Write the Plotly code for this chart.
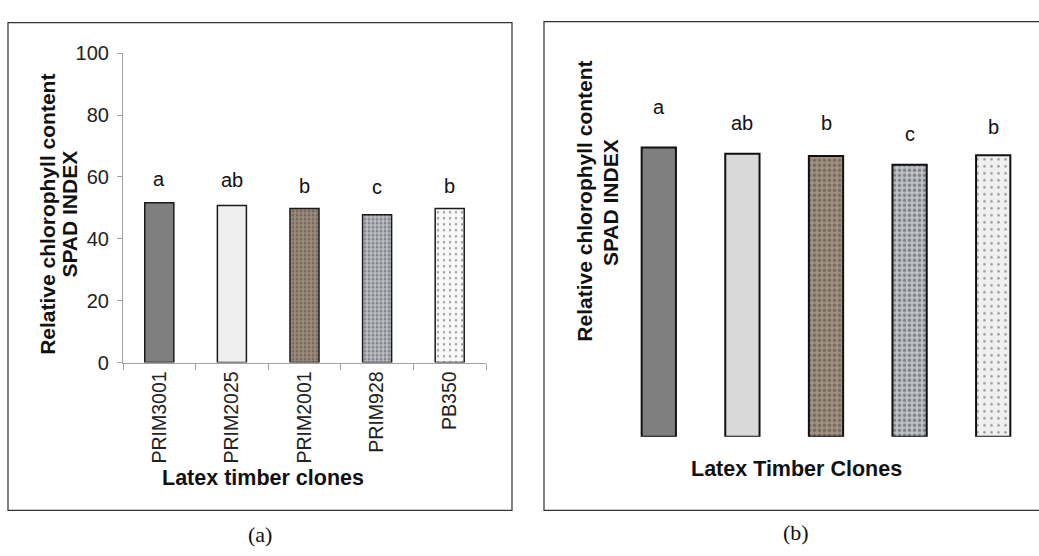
import plotly.graph_objects as go

W, H = 1039, 556

clones = ["PRIM3001", "PRIM2025", "PRIM2001", "PRIM928", "PB350"]
spad_a = [51.7, 50.8, 49.8, 47.8, 49.8]
spad_b = [51.5, 50.4, 50.0, 48.4, 50.1]
letters = ["a", "ab", "b", "c", "b"]
y_ticks = [0, 20, 40, 60, 80, 100]

# styles
shift_a = [24, 25, 23, 28, 23]
shift_b = [40, 31, 33, 31, 28]
fill_a = ["#7f7f7f", "#efefef", "#a08d7b", "#bcc0c7", "#f8f8f8"]
fill_b = ["#7f7f7f", "#d9d9d9", "#a39180", "#bcc0c7", "#f0f0f0"]
dots_a = ["rgba(0,0,0,0)", "rgba(0,0,0,0)", "#4a3c30", "#575b63", "#e2e2e2"]
dots_b = ["rgba(0,0,0,0)", "rgba(0,0,0,0)", "#4a3c30", "#6a6e76", "#dcdcdc"]
shapes_p = ["", "", ".", ".", "."]
p_size = [4, 4, 4, 4, 6]
p_solid = [0.3, 0.3, 0.4, 0.38, 0.12]

FONT = "Liberation Sans, Arial, sans-serif"
SERIF = "Liberation Serif, Times New Roman, serif"


def px(x):
    return x / W


def py(y):
    return 1 - y / H


fig = go.Figure()

fig.add_trace(go.Bar(
    x=clones, y=spad_a, xaxis="x", yaxis="y", width=0.4,
    marker=dict(color=fill_a, line=dict(color="#1a1a1a", width=1.5),
                pattern=dict(shape=shapes_p, fgcolor=dots_a, size=p_size,
                             solidity=p_solid, fillmode="overlay")),
    hoverinfo="skip", showlegend=False,
))
fig.add_trace(go.Bar(
    x=clones, y=spad_b, xaxis="x2", yaxis="y2", width=0.41,
    marker=dict(color=fill_b, line=dict(color="#111111", width=2),
                pattern=dict(shape=shapes_p, fgcolor=dots_b,
                             size=[s + 1 for s in p_size], solidity=p_solid,
                             fillmode="overlay")),
    hoverinfo="skip", showlegend=False,
))

annotations = []
for c, v, l, s in zip(clones, spad_a, letters, shift_a):
    annotations.append(dict(x=c, y=v, xref="x", yref="y", text=l, showarrow=False,
                            yanchor="middle", yshift=s,
                            font=dict(family=FONT, size=20, color="#111")))
for c, v, l, s in zip(clones, spad_b, letters, shift_b):
    annotations.append(dict(x=c, y=v, xref="x2", yref="y2", text=l, showarrow=False,
                            yanchor="middle", yshift=s,
                            font=dict(family=FONT, size=20, color="#111")))


def label(x, y, text, size, angle=0, family=FONT):
    annotations.append(dict(x=px(x), y=py(y), xref="paper", yref="paper", text=text,
                            textangle=angle, showarrow=False, xanchor="center",
                            yanchor="middle", font=dict(family=family, size=size, color="#111")))


# axis titles
label(46.7, 211.5, "<b>Relative chlorophyll content</b>", 21, -90)
label(70, 212, "<b>SPAD INDEX</b>", 21, -90)
label(263, 486, "<b>Latex timber clones</b>", 21.5)
label(585, 198.5, "<b>Relative chlorophyll content</b>", 21, -90)
label(610, 200, "<b>SPAD INDEX</b>", 21, -90)
label(796, 477, "<b>Latex Timber Clones</b>", 21.5)
# captions
label(260, 545, "(a)", 22, family=SERIF)
label(796, 543, "(b)", 22, family=SERIF)

shapes = [
    dict(type="rect", xref="paper", yref="paper", x0=px(8), x1=px(512), y0=py(520), y1=py(12),
         line=dict(color="#333", width=1.2), fillcolor="rgba(0,0,0,0)", layer="below"),
    dict(type="rect", xref="paper", yref="paper", x0=px(544), x1=px(1045), y0=py(520), y1=py(11),
         line=dict(color="#333", width=1.2), fillcolor="rgba(0,0,0,0)", layer="below"),
]

fig.update_layout(
    width=W, height=H,
    margin=dict(l=0, r=0, t=0, b=0),
    paper_bgcolor="white", plot_bgcolor="white",
    annotations=annotations, shapes=shapes,
    font=dict(family=FONT, color="#222"),
    xaxis=dict(domain=[px(123), px(486)], anchor="y", type="category",
               range=[-0.5, 4.5], showline=True, linecolor="#a0a0a0", linewidth=1.2,
               ticks="outside", tickson="boundaries", ticklen=6, tickcolor="#a0a0a0",
               tickangle=-90, tickfont=dict(family=FONT, size=19.5, color="#222"),
               showgrid=False, zeroline=False, fixedrange=True),
    yaxis=dict(domain=[py(366), py(44)], anchor="x", range=[0, 100],
               tickvals=y_ticks, showline=True, linecolor="#a0a0a0", linewidth=1.2,
               ticks="outside", ticklen=5, tickcolor="#a0a0a0", ticklabelstandoff=4,
               tickfont=dict(family=FONT, size=20, color="#222"),
               showgrid=False, zeroline=False, fixedrange=True),
    xaxis2=dict(domain=[px(617), px(1035)], anchor="y2", type="category",
                range=[-0.5, 4.5], visible=False, fixedrange=True),
    yaxis2=dict(domain=[py(443.3), py(121.6)], anchor="x2", range=[0, 55],
                visible=False, fixedrange=True),
)

fig.write_html("out.html", config={"displayModeBar": False},
               post_script="document.body.style.margin='0';document.body.style.overflow='hidden';")
